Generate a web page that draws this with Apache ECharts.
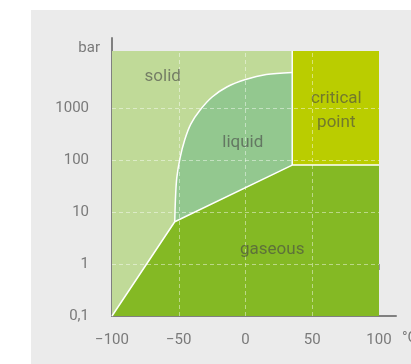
<!DOCTYPE html>
<html>
<head>
<meta charset="utf-8">
<script src="https://cdn.jsdelivr.net/npm/echarts@6/dist/echarts.min.js"></script>
<style>
  html, body { margin: 0; padding: 0; background: #fff; }
  #wrap { position: relative; width: 411px; height: 364px; overflow: hidden; }
  #panel { position: absolute; left: 31px; top: 10px; right: 0; bottom: 0; background: #ebebeb; }
  #chart { position: absolute; left: 0; top: 0; width: 411px; height: 364px; }
</style>
</head>
<body>
<div id="wrap"><div id="panel"></div><div id="chart"></div></div>
<script>
// phase diagram (CO2), pressure in bar drawn as log10 on a value axis
const xTicks = [-100, -50, 0, 50, 100]
const xTickLabels = ['−100', '−50', '0', '50', '100']
const yTicks = [0.1, 1, 10, 100, 1000]
const yTickLabels = ['0,1', '1', '10', '100', '1000']

const tMin = -100
const tMax = 100
const pMin = 0.1
const pMax = 12500

// melting curve: solid / liquid border
const meltT = [-53, -52.5, -51.5, -49, -45.5, -41, -34, -25, -14, 0, 15.5, 35]
const meltP = [6.5, 17, 45, 110, 245, 490, 915, 1630, 2540, 3530, 4400, 4800]

// sublimation + vaporisation line, then top of the gas region
const gasT = [-100, -53, 35, 100]
const gasP = [0.1, 6.5, 80, 80]

// supercritical block
const critT = [35, 100]
const critBottom = 80

const regionNames = ['solid', 'liquid', 'critical\npoint', 'gaseous']
const regionT = [-62, -2, 68, 20]
const regionP = [3950, 212, 870, 1.9]

const lg = Math.log10
const FONT = 'Roboto, "DejaVu Sans", sans-serif'
const AXIS = '#808080'
const WHITE = { color: '#ffffff', width: 1.5 }

const chart = echarts.init(document.getElementById('chart'))

function area(points, color, z, line, smooth) {
  return {
    type: 'line',
    data: points,
    symbol: 'none',
    smooth: smooth || false,
    silent: true,
    z: z,
    lineStyle: line || { width: 0 },
    areaStyle: { color: color, opacity: 1, origin: 'start' },
  }
}

chart.setOption({
  animation: false,
  backgroundColor: 'transparent',
  grid: [
    { left: 112, right: 32, top: 51, bottom: 48, outerBoundsMode: 'none' },
    { left: 112, right: 15, top: 38, bottom: 48, outerBoundsMode: 'none' },
  ],
  xAxis: [
    {
      gridIndex: 0,
      type: 'value',
      min: tMin,
      max: tMax,
      offset: 5,
      axisLine: { show: false },
      splitLine: { show: false },
      axisTick: { show: true, customValues: xTicks, length: 6, lineStyle: { color: AXIS, width: 1.5 } },
      axisLabel: {
        customValues: xTicks,
        margin: 12,
        color: '#7a7a7a',
        fontSize: 15,
        fontFamily: FONT,
        formatter: (v) => xTickLabels[xTicks.indexOf(v)],
      },
    },
    {
      gridIndex: 1,
      type: 'value',
      min: 0,
      max: 1,
      axisLine: { show: true, onZero: false, lineStyle: { color: AXIS, width: 2 } },
      axisTick: { show: false },
      axisLabel: { show: false },
      splitLine: { show: false },
      name: '\n\n°C',
      nameLocation: 'end',
      nameGap: 6,
      nameTextStyle: { color: '#7a7a7a', fontSize: 15, lineHeight: 22, fontFamily: FONT },
    },
  ],
  yAxis: [
    {
      gridIndex: 0,
      type: 'value',
      min: lg(pMin),
      max: lg(pMax),
      offset: 8,
      axisLine: { show: false },
      splitLine: { show: false },
      axisTick: { show: true, customValues: yTicks.map(lg), length: 7, lineStyle: { color: AXIS, width: 1.5 } },
      axisLabel: {
        customValues: yTicks.map(lg),
        margin: 15,
        color: '#7a7a7a',
        fontSize: 15,
        fontFamily: FONT,
        formatter: (v) => {
          const i = yTicks.findIndex((t) => Math.abs(lg(t) - v) < 1e-6)
          return i < 0 ? '' : yTickLabels[i]
        },
      },
    },
    {
      gridIndex: 1,
      type: 'value',
      min: 0,
      max: 1,
      axisLine: { show: true, onZero: false, lineStyle: { color: AXIS, width: 2 } },
      axisTick: { show: false },
      axisLabel: { show: false },
      splitLine: { show: false },
      name: 'bar',
      nameLocation: 'end',
      nameGap: -10,
      nameTextStyle: { color: '#7a7a7a', fontSize: 15, fontFamily: FONT, align: 'right', verticalAlign: 'middle', padding: [0, 12, 0, 0] },
    },
  ],
  series: [
    // solid fills the whole left part up to the top
    area([[tMin, lg(pMax)], [critT[0], lg(pMax)]], '#c0da98', 1),
    // critical block
    area(critT.map((t) => [t, lg(pMax)]), '#bacd00', 2),
    // liquid under the melting curve
    area(meltT.map((t, i) => [t, lg(meltP[i])]), '#93c88f', 3, WHITE, 0.3),
    // gas under sublimation / vaporisation line
    area(gasT.map((t, i) => [t, lg(gasP[i])]), '#84b924', 4, WHITE),
    // left edge of the critical block
    {
      type: 'line',
      data: [[critT[0], lg(pMax)], [critT[0], lg(critBottom)]],
      symbol: 'none',
      silent: true,
      z: 5,
      lineStyle: WHITE,
    },
    // dashed grid inside the plot
    {
      type: 'line',
      data: [],
      symbol: 'none',
      silent: true,
      z: 6,
      markLine: {
        silent: true,
        symbol: 'none',
        label: { show: false },
        lineStyle: { type: [4, 3], color: 'rgba(255,255,255,0.45)', width: 1 },
        data: xTicks.slice(1, -1).map((v) => ({ xAxis: v }))
          .concat(yTicks.slice(1).map((v) => ({ yAxis: lg(v) }))),
      },
    },
    // region names
    {
      type: 'scatter',
      symbolSize: 1,
      silent: true,
      z: 7,
      itemStyle: { color: 'transparent' },
      data: regionNames.map((n, i) => ({ name: n, value: [regionT[i], lg(regionP[i])] })),
      label: {
        show: true,
        position: 'inside',
        formatter: '{b}',
        color: 'rgba(70,70,70,0.78)',
        fontSize: 17,
        lineHeight: 24,
        fontFamily: FONT,
      },
    },
  ],
})
</script>
</body>
</html>
